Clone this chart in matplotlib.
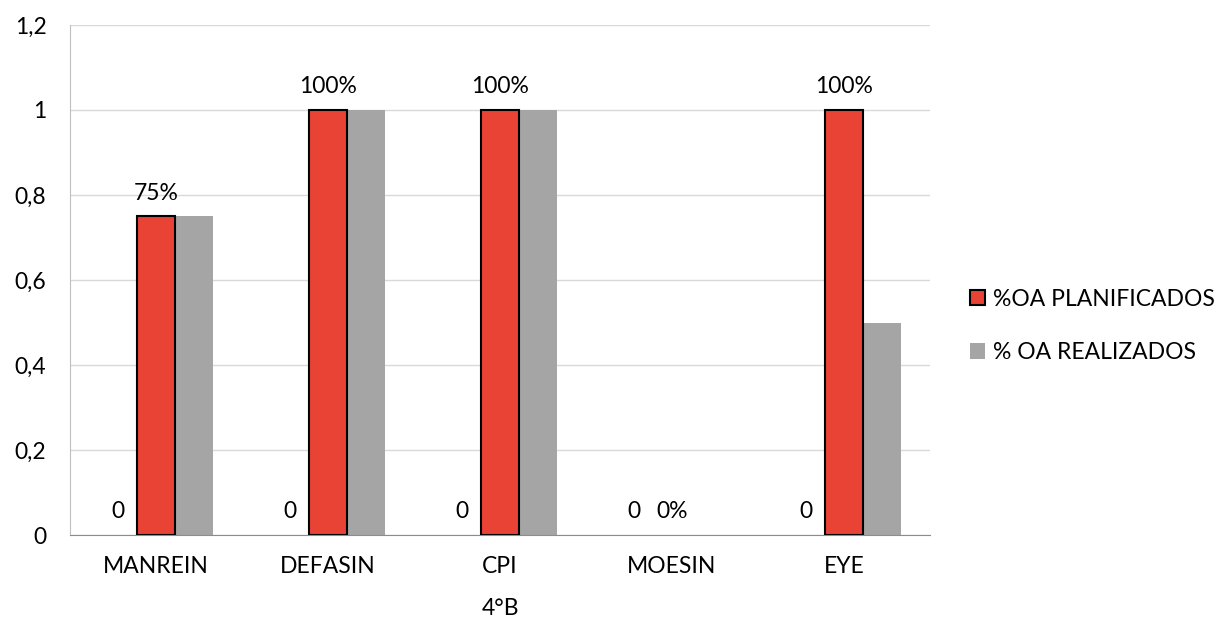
import matplotlib.pyplot as plt
import numpy as np

categories = ['MANREIN', 'DEFASIN', 'CPI', 'MOESIN', 'EYE']
serie_cero = [0, 0, 0, 0, 0]
planificados = [0.75, 1.0, 1.0, 0.0, 1.0]
realizados = [0.75, 1.0, 1.0, 0.0, 0.5]
yticks = [0, 0.2, 0.4, 0.6, 0.8, 1.0, 1.2]
ytick_labels = ['0', '0,2', '0,4', '0,6', '0,8', '1', '1,2']

plt.rcParams['font.family'] = ['Lato', 'DejaVu Sans']
fs = 16.5

fig = plt.figure(figsize=(12.14, 6.19), dpi=100)
ax = fig.add_axes([70 / 1214, 1 - 535 / 619, 860 / 1214, 510 / 619])

x = np.arange(len(categories))
w = 0.22

# first series is invisible (only its "0" labels show)
ax.bar(x - w, serie_cero, w, color='none')
edge_w = [1.5 if v > 0 else 0 for v in planificados]
ax.bar(x, planificados, w, color='#E94335', edgecolor='black', linewidth=edge_w,
       label='%OA PLANIFICADOS', zorder=3)
ax.bar(x + w, realizados, w, color='#A5A5A5', label='% OA REALIZADOS', zorder=2)

for i in range(len(categories)):
    ax.text(x[i] - w, serie_cero[i] + 0.03, '0', ha='center', va='bottom', fontsize=fs)
    ax.text(x[i], planificados[i] + 0.03, f'{planificados[i]:.0%}', ha='center',
            va='bottom', fontsize=fs)

ax.set_xlim(-0.5, len(categories) - 0.5)
ax.set_ylim(0, 1.2)
ax.set_yticks(yticks)
ax.set_yticklabels(ytick_labels)
ax.set_xticks(x)
ax.set_xticklabels(categories)
ax.tick_params(axis='both', length=0, labelsize=fs, colors='black')
ax.tick_params(axis='x', pad=15)
ax.tick_params(axis='y', pad=17)
ax.set_xlabel('4°B', fontsize=fs, labelpad=15)

ax.grid(axis='y', color='#D9D9D9', linewidth=1, zorder=0)
ax.set_axisbelow(True)
for s in ['top', 'right']:
    ax.spines[s].set_visible(False)
ax.spines['left'].set_color('#BFBFBF')
ax.spines['bottom'].set_color('#8C8C8C')

ax.legend(loc='center left', bbox_to_anchor=(1.0465, 0.41), frameon=False,
          fontsize=fs, handlelength=0.65, handleheight=0.65, handletextpad=0.35,
          labelspacing=1.4, borderaxespad=0, borderpad=0)

fig.savefig('out.png', dpi=100)
